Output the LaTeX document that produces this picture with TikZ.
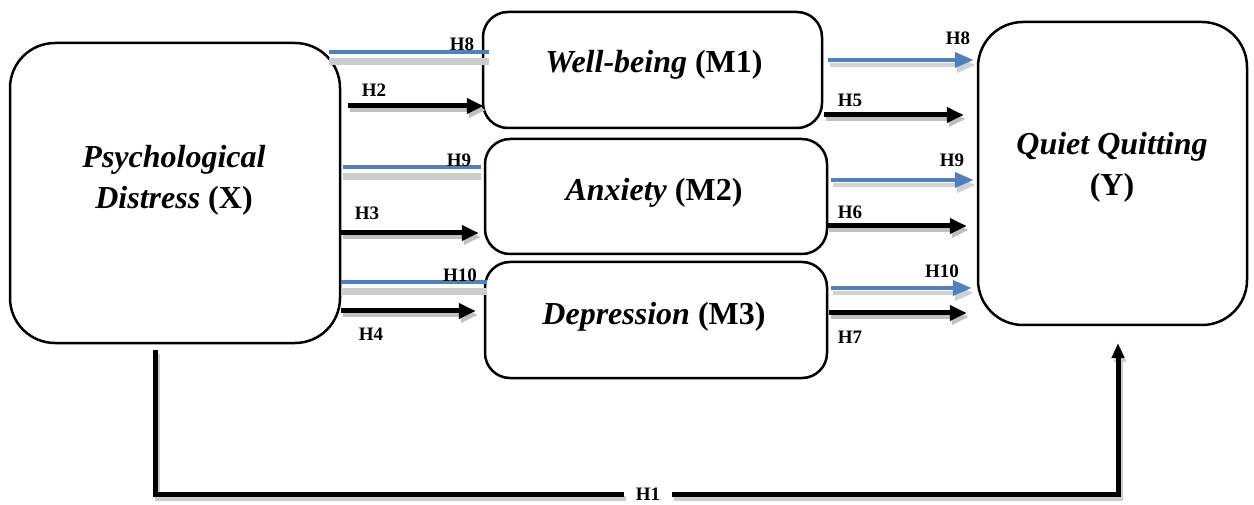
\documentclass[tikz,border=0pt]{standalone}
\usepackage{fontspec}
\setmainfont{Liberation Serif}
\usetikzlibrary{arrows.meta}
\definecolor{myblue}{HTML}{4F81BD}
\begin{document}
\begin{tikzpicture}[x=1pt,y={(0pt,-1pt)},
  box/.style={draw, line width=2.5pt, rounded corners=#1, inner sep=0pt, fill=white},
  box/.default=25pt,
  maintxt/.style={font=\fontsize{32}{41}\selectfont, align=center, inner sep=0pt},
  lab/.style={font=\bfseries\fontsize{19}{19}\selectfont, inner sep=0pt},
  blk/.style={line width=5pt, -{Triangle[length=17pt,width=15pt]},
    preaction={draw=black!25, line width=5pt, transform canvas={shift={(2pt,-4pt)}}}},
  bluel/.style={draw=myblue, line width=4pt,
    preaction={draw=black!20, line width=7pt, transform canvas={yshift=-10pt}}},
  bluea/.style={draw=myblue, line width=4pt, -{Triangle[length=19pt,width=15pt]},
    preaction={draw=black!18, line width=4pt, transform canvas={shift={(2pt,-5pt)}}}},
  h1l/.style={line width=5pt,
    preaction={draw=black!20, line width=5pt, transform canvas={shift={(2pt,-4pt)}}}},
]
\useasboundingbox (0,0) rectangle (1254,505);

% boxes
\node[box=45pt, minimum width=330pt, minimum height=300pt] (X) at (175,193) {};
\node[box=45pt, minimum width=269pt, minimum height=303pt] (Y) at (1112.5,173.5) {};
\node[box, minimum width=339pt, minimum height=116pt] (M1) at (652.5,70) {};
\node[box, minimum width=342pt, minimum height=115pt] (M2) at (656,196.5) {};
\node[box, minimum width=342pt, minimum height=116pt] (M3) at (656,320) {};

% texts
\node[maintxt] (Xt) at (174,180) {\textbf{\textit{Psychological}}\\\textbf{\textit{Distress} (X)}};
\node[maintxt] (Yt) at (1112,167) {\textbf{\textit{Quiet Quitting}}\\\textbf{(Y)}};
\node[maintxt] (M1t) at (654,65) {\textbf{\textit{Well-being} (M1)}};
\node[maintxt] (M2t) at (654,193) {\textbf{\textit{Anxiety} (M2)}};
\node[maintxt] (M3t) at (654,317) {\textbf{\textit{Depression} (M3)}};

% left connectors
\draw[bluel] ([xshift=-12pt]X.east |- 0,52) -- ([xshift=7pt]M1.west |- 0,52);
\draw[blk]   ([xshift=7pt]X.east |- 0,106) -- ([xshift=2pt]M1.west |- 0,106);
\draw[bluel] ([xshift=2pt]X.east |- 0,167) -- ([xshift=-3pt]M2.west |- 0,167);
\draw[blk]   (X.east |- 0,233) -- ([xshift=-5pt]M2.west |- 0,233);
\draw[bluel] (X.east |- 0,282) -- ([xshift=3pt]M3.west |- 0,282);
\draw[blk]   (X.east |- 0,311) -- ([xshift=-8pt]M3.west |- 0,311);

% right connectors
\draw[bluea] ([xshift=5pt]M1.east |- 0,60) -- ([xshift=-3pt]Y.west |- 0,60);
\draw[blk]   ([xshift=1pt]M1.east |- 0,115) -- ([xshift=-13pt]Y.west |- 0,115);
\draw[bluea] ([xshift=3pt]M2.east |- 0,180) -- ([xshift=-3pt]Y.west |- 0,180);
\draw[blk]   ([xshift=-1pt]M2.east |- 0,226) -- ([xshift=-10pt]Y.west |- 0,226);
\draw[bluea] ([xshift=3pt]M3.east |- 0,288) -- ([xshift=-5pt]Y.west |- 0,288);
\draw[blk]   ([xshift=1pt]M3.east |- 0,313) -- ([xshift=-10pt]Y.west |- 0,313);

% labels
\node[lab] (l8a) at (462,44) {H8};
\node[lab] (l2) at (374,90) {H2};
\node[lab] (l9a) at (459,160) {H9};
\node[lab] (l3) at (367,213) {H3};
\node[lab] (l10a) at (460,275) {H10};
\node[lab] (l4) at (371,334) {H4};
\node[lab] (l8b) at (958,38) {H8};
\node[lab] (l5) at (850,100) {H5};
\node[lab] (l9b) at (952,160) {H9};
\node[lab] (l6) at (850,212) {H6};
\node[lab] (l10b) at (942,271) {H10};
\node[lab] (l7) at (850,337) {H7};
\node[lab] (l1) at (648,494) {H1};

% H1
\coordinate (h1s) at (155,350);
\coordinate (h1e) at (1118,343);
\draw[h1l] (h1s) |- ([xshift=-12pt]l1.west);
\draw[h1l, -{Triangle[length=15pt,width=12pt]}] ([xshift=12pt]l1.east) -| (h1e);
\end{tikzpicture}
\end{document}
